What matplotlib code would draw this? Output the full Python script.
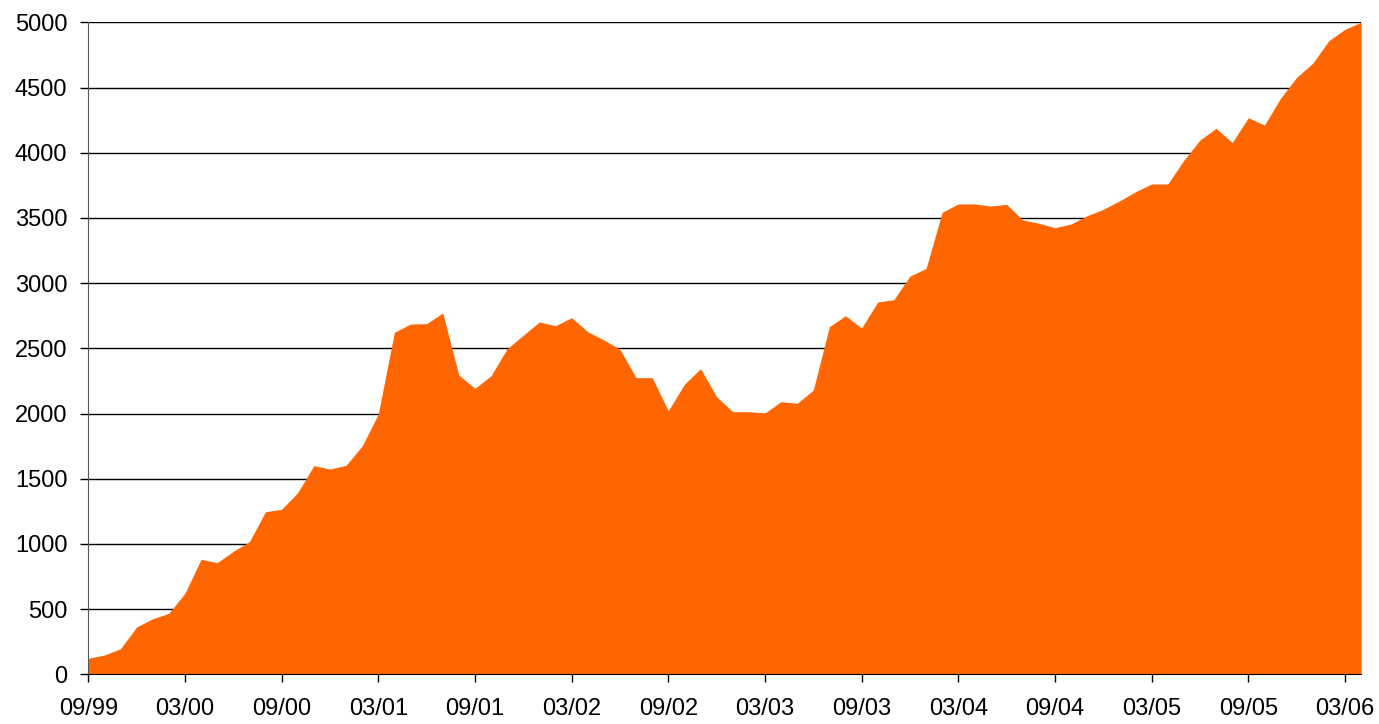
import matplotlib
matplotlib.use("Agg")
import matplotlib.pyplot as plt
import numpy as np

plt.rcParams['font.family'] = ['Liberation Sans', 'DejaVu Sans']

values = [123, 148, 196, 363, 426, 468, 621, 882, 856, 943,
          1017, 1247, 1265, 1393, 1600, 1574, 1603, 1751, 1996, 2623,
          2686, 2689, 2771, 2295, 2193, 2290, 2497, 2600, 2702, 2673,
          2735, 2627, 2564, 2492, 2275, 2275, 2021, 2224, 2344, 2129,
          2014, 2014, 2004, 2091, 2078, 2180, 2666, 2750, 2656, 2855,
          2873, 3054, 3112, 3543, 3607, 3607, 3591, 3604, 3484, 3459,
          3425, 3453, 3517, 3566, 3630, 3701, 3760, 3760, 3942, 4097,
          4187, 4077, 4268, 4212, 4417, 4578, 4686, 4859, 4946, 5000]
tick_labels = ['09/99', '03/00', '09/00', '03/01', '09/01', '03/02', '09/02',
               '03/03', '09/03', '03/04', '09/04', '03/05', '09/05', '03/06']

x = np.arange(len(values))

fig = plt.figure(figsize=(13.79, 7.24), dpi=100)
ax = fig.add_axes([0.064, 0.0686, 0.923, 0.9006])

ax.fill_between(x, 0, values, color='#FF6600', linewidth=0, zorder=2)
ax.set_xlim(0, len(values) - 1)
ax.set_ylim(0, 5000)
ax.set_yticks(np.arange(0, 5001, 500))
ax.set_xticks(np.arange(0, len(values), 6))
ax.set_xticklabels(tick_labels)
ax.yaxis.grid(True, color='black', linewidth=1.0, zorder=1)
ax.set_axisbelow(True)

for s in ['top', 'right']:
    ax.spines[s].set_visible(False)
ax.spines['left'].set_color('#555555')
ax.spines['left'].set_zorder(3)
ax.spines['bottom'].set_color('#000000')
ax.spines['bottom'].set_zorder(3)
ax.tick_params(axis='both', labelsize=17, length=6, width=1, color='black', direction='out')
ax.tick_params(axis='y', pad=9)
ax.tick_params(axis='x', pad=11)

fig.savefig('out.png', dpi=100)
